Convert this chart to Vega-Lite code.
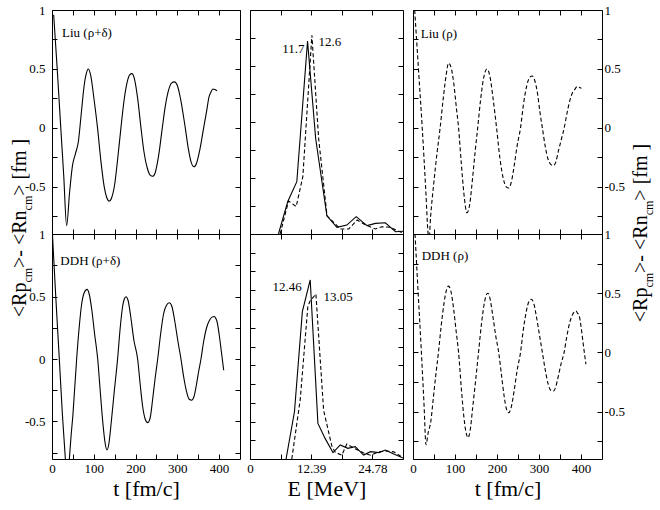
{
  "$schema": "https://vega.github.io/schema/vega-lite/v6.json",
  "background": "white",
  "padding": {"left": 9, "top": 3, "right": 5, "bottom": 5},
  "config": {
    "font": "Liberation Serif",
    "view": {"stroke": "black", "strokeWidth": 1},
    "axis": {
      "domain": false, "grid": false, "tickSize": -5, "tickColor": "black", "tickWidth": 1,
      "labelFont": "Liberation Serif", "labelFontSize": 13, "labelColor": "black", "labelFlush": false,
      "titleFont": "Liberation Serif", "titleFontSize": 22, "titleFontWeight": "normal", "titleColor": "black", "titlePadding": 3
    },
    "axisLeft": {"labelPadding": 12},
    "axisRight": {"labelPadding": 7},
    "axisBottom": {"labelPadding": 8},
    "line": {"color": "black", "strokeWidth": 1.1},
    "text": {"color": "black", "font": "Liberation Serif"}
  },
  "datasets": {
    "liu_rd": [
      {"t":4,"v":0.96},{"t":12.5,"v":0.5},{"t":21,"v":0},{"t":28,"v":-0.4},{"t":35,"v":-0.83},{"t":42,"v":-0.55},{"t":49,"v":-0.32},{"t":56,"v":-0.22},{"t":63,"v":-0.12},{"t":70,"v":0.12},{"t":77,"v":0.36},{"t":82,"v":0.46},{"t":87,"v":0.5},{"t":93,"v":0.44},{"t":100,"v":0.26},{"t":109,"v":0},{"t":117,"v":-0.28},{"t":125,"v":-0.5},{"t":131,"v":-0.59},{"t":137,"v":-0.62},{"t":143,"v":-0.59},{"t":150,"v":-0.48},{"t":157,"v":-0.27},{"t":165,"v":0},{"t":172,"v":0.22},{"t":180,"v":0.39},{"t":186,"v":0.45},{"t":191,"v":0.46},{"t":197,"v":0.42},{"t":205,"v":0.25},{"t":213,"v":0},{"t":220,"v":-0.2},{"t":228,"v":-0.34},{"t":235,"v":-0.4},{"t":241,"v":-0.41},{"t":247,"v":-0.38},{"t":255,"v":-0.24},{"t":264,"v":0},{"t":271,"v":0.18},{"t":279,"v":0.32},{"t":286,"v":0.38},{"t":293,"v":0.39},{"t":300,"v":0.36},{"t":308,"v":0.24},{"t":319,"v":0},{"t":326,"v":-0.17},{"t":333,"v":-0.29},{"t":340,"v":-0.33},{"t":346,"v":-0.3},{"t":353,"v":-0.2},{"t":363,"v":0},{"t":370,"v":0.14},{"t":376,"v":0.265},{"t":380,"v":0.3},{"t":385,"v":0.33},{"t":390,"v":0.325},{"t":395,"v":0.315}
    ],
    "liu_r": [
      {"t":4,"v":1.0},{"t":13,"v":0.5},{"t":22,"v":0},{"t":30,"v":-0.5},{"t":36,"v":-0.9},{"t":38,"v":-0.95},{"t":42,"v":-0.75},{"t":50,"v":-0.45},{"t":57,"v":-0.22},{"t":64.6,"v":0},{"t":72,"v":0.25},{"t":79,"v":0.45},{"t":84.6,"v":0.55},{"t":90,"v":0.52},{"t":97,"v":0.38},{"t":103,"v":0.18},{"t":108.5,"v":0},{"t":115,"v":-0.3},{"t":121,"v":-0.55},{"t":128.5,"v":-0.72},{"t":135,"v":-0.65},{"t":142,"v":-0.42},{"t":148,"v":-0.2},{"t":154,"v":0},{"t":161,"v":0.24},{"t":168,"v":0.42},{"t":176,"v":0.5},{"t":183,"v":0.44},{"t":191,"v":0.24},{"t":199,"v":0},{"t":207,"v":-0.26},{"t":215,"v":-0.43},{"t":222,"v":-0.5},{"t":228,"v":-0.51},{"t":234,"v":-0.46},{"t":241,"v":-0.32},{"t":248,"v":-0.15},{"t":256,"v":0},{"t":263,"v":0.2},{"t":271,"v":0.36},{"t":278,"v":0.43},{"t":284,"v":0.44},{"t":290,"v":0.4},{"t":297,"v":0.28},{"t":302,"v":0.14},{"t":308,"v":0},{"t":315,"v":-0.16},{"t":322,"v":-0.27},{"t":328,"v":-0.31},{"t":334,"v":-0.32},{"t":340,"v":-0.29},{"t":346,"v":-0.2},{"t":353,"v":-0.1},{"t":360,"v":0},{"t":367,"v":0.13},{"t":374,"v":0.24},{"t":380,"v":0.3},{"t":384,"v":0.32},{"t":391,"v":0.35},{"t":396,"v":0.345},{"t":401,"v":0.335}
    ],
    "ddh_rd": [
      {"t":1,"v":1.0},{"t":9,"v":0.5},{"t":17.5,"v":0},{"t":25,"v":-0.45},{"t":32,"v":-0.8},{"t":36,"v":-0.98},{"t":41.5,"v":-0.8},{"t":46,"v":-0.6},{"t":50,"v":-0.45},{"t":54,"v":-0.25},{"t":59,"v":0},{"t":65,"v":0.25},{"t":71,"v":0.44},{"t":77,"v":0.53},{"t":83.8,"v":0.557},{"t":89,"v":0.52},{"t":95,"v":0.4},{"t":102,"v":0.2},{"t":109.4,"v":0},{"t":116,"v":-0.28},{"t":122,"v":-0.52},{"t":127,"v":-0.67},{"t":131.6,"v":-0.728},{"t":136,"v":-0.68},{"t":142,"v":-0.5},{"t":149,"v":-0.26},{"t":157,"v":0},{"t":163,"v":0.24},{"t":169,"v":0.42},{"t":173,"v":0.48},{"t":177,"v":0.498},{"t":182,"v":0.47},{"t":188,"v":0.35},{"t":196,"v":0.15},{"t":205,"v":0},{"t":211,"v":-0.2},{"t":217,"v":-0.38},{"t":223,"v":-0.48},{"t":229,"v":-0.51},{"t":235,"v":-0.47},{"t":241,"v":-0.32},{"t":247,"v":-0.15},{"t":253,"v":0},{"t":260,"v":0.2},{"t":267,"v":0.36},{"t":274,"v":0.43},{"t":280.8,"v":0.45},{"t":287,"v":0.42},{"t":294,"v":0.3},{"t":301,"v":0.15},{"t":308.7,"v":0},{"t":315,"v":-0.14},{"t":322,"v":-0.26},{"t":328,"v":-0.32},{"t":334,"v":-0.33},{"t":340,"v":-0.3},{"t":346,"v":-0.2},{"t":351,"v":-0.1},{"t":356.6,"v":0},{"t":363,"v":0.14},{"t":370,"v":0.25},{"t":377,"v":0.31},{"t":383,"v":0.335},{"t":388.5,"v":0.34},{"t":392,"v":0.325},{"t":395,"v":0.3},{"t":400,"v":0.2},{"t":405,"v":0.07},{"t":411,"v":-0.09}
    ],
    "ddh_r": [
      {"t":4.8,"v":1.0},{"t":12,"v":0.52},{"t":20,"v":0},{"t":26,"v":-0.42},{"t":31,"v":-0.78},{"t":36,"v":-0.68},{"t":42.3,"v":-0.586},{"t":48,"v":-0.4},{"t":54,"v":-0.2},{"t":60.6,"v":0},{"t":67,"v":0.22},{"t":74,"v":0.42},{"t":80,"v":0.53},{"t":84.6,"v":0.56},{"t":90,"v":0.52},{"t":97,"v":0.36},{"t":103,"v":0.17},{"t":108.5,"v":0},{"t":115,"v":-0.3},{"t":121,"v":-0.54},{"t":126,"v":-0.67},{"t":131,"v":-0.72},{"t":136,"v":-0.66},{"t":142,"v":-0.47},{"t":149,"v":-0.24},{"t":156,"v":0},{"t":163,"v":0.24},{"t":170,"v":0.42},{"t":174,"v":0.48},{"t":177.9,"v":0.5},{"t":183,"v":0.46},{"t":190,"v":0.31},{"t":197,"v":0.14},{"t":204,"v":0},{"t":211,"v":-0.2},{"t":217,"v":-0.37},{"t":222,"v":-0.47},{"t":228,"v":-0.51},{"t":234,"v":-0.46},{"t":241,"v":-0.32},{"t":248,"v":-0.15},{"t":256,"v":0},{"t":263,"v":0.2},{"t":270,"v":0.35},{"t":276,"v":0.43},{"t":281.6,"v":0.449},{"t":287,"v":0.42},{"t":294,"v":0.3},{"t":301,"v":0.15},{"t":308,"v":0},{"t":315,"v":-0.15},{"t":322,"v":-0.27},{"t":328,"v":-0.32},{"t":334.2,"v":-0.327},{"t":340,"v":-0.29},{"t":346,"v":-0.2},{"t":353,"v":-0.09},{"t":359.8,"v":0},{"t":366,"v":0.13},{"t":373,"v":0.25},{"t":380,"v":0.32},{"t":387.7,"v":0.35},{"t":392,"v":0.33},{"t":395.7,"v":0.31},{"t":400,"v":0.22},{"t":405,"v":0.08},{"t":411.7,"v":-0.1}
    ],
    "spec_top_solid": [
      {"e":5.76,"s":0},{"e":7.65,"s":1.16},{"e":9.48,"s":1.87},{"e":11.65,"s":6.89},{"e":13.3,"s":3.4},{"e":15.57,"s":0.65},{"e":17.6,"s":0.24},{"e":19.6,"s":0.32},{"e":21.5,"s":0.62},{"e":23.7,"s":0.3},{"e":25.4,"s":0.38},{"e":27.4,"s":0.4},{"e":29.45,"s":0.08},{"e":31.1,"s":0.1}
    ],
    "spec_top_dash": [
      {"e":6.1,"s":0},{"e":7.8,"s":1.18},{"e":9.35,"s":0.98},{"e":10.7,"s":2.05},{"e":12.53,"s":7.1},{"e":13.9,"s":3.4},{"e":15.6,"s":0.65},{"e":17.6,"s":0.3},{"e":18.3,"s":0.18},{"e":20.0,"s":0.18},{"e":21.7,"s":0.5},{"e":23.4,"s":0.32},{"e":25.4,"s":0.18},{"e":26.7,"s":0.26},{"e":28.4,"s":0.24},{"e":31.1,"s":0.02}
    ],
    "spec_bot_solid": [
      {"e":7.3,"s":0},{"e":9.0,"s":2.52},{"e":10.6,"s":7.86},{"e":12.19,"s":9.55},{"e":13.75,"s":1.9},{"e":15.2,"s":1.1},{"e":16.8,"s":0.34},{"e":18.28,"s":0.75},{"e":19.8,"s":0.57},{"e":21.3,"s":0.66},{"e":23.0,"s":0.21},{"e":24.4,"s":0.39},{"e":26.1,"s":0.34},{"e":27.4,"s":0.48},{"e":29.1,"s":0.27},{"e":31.0,"s":0.05}
    ],
    "spec_bot_dash": [
      {"e":8.46,"s":0},{"e":10.16,"s":3.15},{"e":11.7,"s":8.1},{"e":12.1,"s":8.4},{"e":13.34,"s":8.8},{"e":14.9,"s":2.6},{"e":16.6,"s":0.66},{"e":17.3,"s":0.35},{"e":18.6,"s":0.21},{"e":19.6,"s":0.8},{"e":21.3,"s":0.55},{"e":23.0,"s":0.32},{"e":24.4,"s":0.2},{"e":26.1,"s":0.38},{"e":27.4,"s":0.43},{"e":29.1,"s":0.38},{"e":31.1,"s":0.05}
    ],
    "ytitle_left_big": [
      {"t":-62.2,"v":-1.606,"txt":"<Rp"},{"t":-62.2,"v":-1.188,"txt":">- <Rn"},{"t":-62.2,"v":-0.575,"txt":"> [fm ]"}
    ],
    "ytitle_left_sub": [
      {"t":-62.2,"v":-1.312,"txt":"cm"},{"t":-62.2,"v":-0.7,"txt":"cm"}
    ],
    "ytitle_right_big": [
      {"t":557.7,"v":-1.648,"txt":"<Rp"},{"t":557.7,"v":-1.23,"txt":">- <Rn"},{"t":557.7,"v":-0.617,"txt":"> [fm ]"}
    ],
    "ytitle_right_sub": [
      {"t":557.7,"v":-1.354,"txt":"cm"},{"t":557.7,"v":-0.742,"txt":"cm"}
    ]
  },
  "columns": 3,
  "spacing": {"row": 0, "column": 10},
  "bounds": "flush",
  "concat": [
    {
      "width": 188, "height": 224,
      "layer": [
        {
          "data": {"name": "liu_rd"},
          "mark": {"type": "line", "clip": true, "interpolate": "monotone"},
          "encoding": {
            "x": {"field": "t", "type": "quantitative", "scale": {"domain": [0, 450], "nice": false},
                  "axis": {"orient": "bottom", "values": [0,50,100,150,200,250,300,350,400], "labels": false, "title": null}},
            "y": {"field": "v", "type": "quantitative", "scale": {"domain": [-0.9, 1], "nice": false},
                  "axis": {"orient": "left", "values": [-0.75,-0.5,-0.25,0,0.25,0.5,0.75,1], "labelExpr": "datum.value * 4 % 2 == 0 ? '' + datum.value : ''", "title": null}}
          }
        },
        {
          "data": {"name": "liu_rd"},
          "mark": {"type": "line", "opacity": 0},
          "encoding": {
            "x": {"field": "t", "type": "quantitative", "scale": {"domain": [0, 450], "nice": false},
                  "axis": {"orient": "top", "values": [0,50,100,150,200,250,300,350,400], "labels": false, "title": null}},
            "y": {"field": "v", "type": "quantitative", "scale": {"domain": [-0.9, 1], "nice": false},
                  "axis": {"orient": "right", "values": [-0.75,-0.5,-0.25,0,0.25,0.5,0.75,1], "labels": false, "title": null}}
          }
        },
        {
          "data": {"values": [{"t": 24, "v": 0.805, "txt": "Liu (ρ+δ)"}]},
          "mark": {"type": "text", "align": "left", "baseline": "middle", "fontSize": 13},
          "encoding": {
            "x": {"field": "t", "type": "quantitative", "scale": {"domain": [0, 450], "nice": false}, "axis": null},
            "y": {"field": "v", "type": "quantitative", "scale": {"domain": [-0.9, 1], "nice": false}, "axis": null},
            "text": {"field": "txt"}
          }
        },
        {
          "data": {"name": "ytitle_left_big"},
          "mark": {"type": "text", "align": "left", "baseline": "alphabetic", "angle": 270, "fontSize": 20},
          "encoding": {
            "x": {"field": "t", "type": "quantitative", "scale": {"domain": [0, 450], "nice": false}, "axis": null},
            "y": {"field": "v", "type": "quantitative", "scale": {"domain": [-0.9, 1], "nice": false}, "axis": null},
            "text": {"field": "txt"}
          }
        },
        {
          "data": {"name": "ytitle_left_sub"},
          "mark": {"type": "text", "align": "left", "baseline": "alphabetic", "angle": 270, "fontSize": 12, "dy": 6},
          "encoding": {
            "x": {"field": "t", "type": "quantitative", "scale": {"domain": [0, 450], "nice": false}, "axis": null},
            "y": {"field": "v", "type": "quantitative", "scale": {"domain": [-0.9, 1], "nice": false}, "axis": null},
            "text": {"field": "txt"}
          }
        }
      ],
      "resolve": {"axis": {"x": "independent", "y": "independent"}}
    },
    {
      "width": 153, "height": 224,
      "layer": [
        {
          "data": {"name": "spec_top_solid"},
          "mark": {"type": "line", "clip": true},
          "encoding": {
            "x": {"field": "e", "type": "quantitative", "scale": {"domain": [0, 30.975], "nice": false},
                  "axis": {"orient": "bottom", "values": [0,6.195,12.39,18.585,24.78], "labels": false, "title": null}},
            "y": {"field": "s", "type": "quantitative", "scale": {"domain": [0, 8], "nice": false},
                  "axis": {"orient": "left", "values": [0,1,2,3,4,5,6,7,8], "labels": false, "title": null}}
          }
        },
        {
          "data": {"name": "spec_top_dash"},
          "mark": {"type": "line", "clip": true, "strokeDash": [4, 2.5]},
          "encoding": {
            "x": {"field": "e", "type": "quantitative", "scale": {"domain": [0, 30.975], "nice": false},
                  "axis": {"orient": "top", "values": [0,6.195,12.39,18.585,24.78], "labels": false, "title": null}},
            "y": {"field": "s", "type": "quantitative", "scale": {"domain": [0, 8], "nice": false},
                  "axis": {"orient": "right", "values": [0,1,2,3,4,5,6,7,8], "labels": false, "title": null}}
          }
        },
        {
          "data": {"values": [{"e": 11.03, "s": 6.61, "txt": "11.7"}]},
          "mark": {"type": "text", "align": "right", "baseline": "middle", "fontSize": 13},
          "encoding": {
            "x": {"field": "e", "type": "quantitative", "scale": {"domain": [0, 30.975], "nice": false}, "axis": null},
            "y": {"field": "s", "type": "quantitative", "scale": {"domain": [0, 8], "nice": false}, "axis": null},
            "text": {"field": "txt"}
          }
        },
        {
          "data": {"values": [{"e": 13.87, "s": 6.87, "txt": "12.6"}]},
          "mark": {"type": "text", "align": "left", "baseline": "middle", "fontSize": 13},
          "encoding": {
            "x": {"field": "e", "type": "quantitative", "scale": {"domain": [0, 30.975], "nice": false}, "axis": null},
            "y": {"field": "s", "type": "quantitative", "scale": {"domain": [0, 8], "nice": false}, "axis": null},
            "text": {"field": "txt"}
          }
        }
      ],
      "resolve": {"axis": {"x": "independent", "y": "independent"}}
    },
    {
      "width": 189, "height": 224,
      "layer": [
        {
          "data": {"name": "liu_r"},
          "mark": {"type": "line", "clip": true, "interpolate": "monotone", "strokeDash": [4, 2.5]},
          "encoding": {
            "x": {"field": "t", "type": "quantitative", "scale": {"domain": [0, 450], "nice": false},
                  "axis": {"orient": "bottom", "values": [0,50,100,150,200,250,300,350,400], "labels": false, "title": null}},
            "y": {"field": "v", "type": "quantitative", "scale": {"domain": [-0.9, 1], "nice": false},
                  "axis": {"orient": "right", "values": [-0.75,-0.5,-0.25,0,0.25,0.5,0.75,1], "labelExpr": "datum.value * 4 % 2 == 0 ? '' + datum.value : ''", "title": null}}
          }
        },
        {
          "data": {"name": "liu_r"},
          "mark": {"type": "line", "opacity": 0},
          "encoding": {
            "x": {"field": "t", "type": "quantitative", "scale": {"domain": [0, 450], "nice": false},
                  "axis": {"orient": "top", "values": [0,50,100,150,200,250,300,350,400], "labels": false, "title": null}},
            "y": {"field": "v", "type": "quantitative", "scale": {"domain": [-0.9, 1], "nice": false},
                  "axis": {"orient": "left", "values": [-0.75,-0.5,-0.25,0,0.25,0.5,0.75,1], "labels": false, "title": null}}
          }
        },
        {
          "data": {"values": [{"t": 18.4, "v": 0.8, "txt": "Liu (ρ)"}]},
          "mark": {"type": "text", "align": "left", "baseline": "middle", "fontSize": 13},
          "encoding": {
            "x": {"field": "t", "type": "quantitative", "scale": {"domain": [0, 450], "nice": false}, "axis": null},
            "y": {"field": "v", "type": "quantitative", "scale": {"domain": [-0.9, 1], "nice": false}, "axis": null},
            "text": {"field": "txt"}
          }
        },
        {
          "data": {"name": "ytitle_right_big"},
          "mark": {"type": "text", "align": "left", "baseline": "alphabetic", "angle": 270, "fontSize": 20},
          "encoding": {
            "x": {"field": "t", "type": "quantitative", "scale": {"domain": [0, 450], "nice": false}, "axis": null},
            "y": {"field": "v", "type": "quantitative", "scale": {"domain": [-0.9, 1], "nice": false}, "axis": null},
            "text": {"field": "txt"}
          }
        },
        {
          "data": {"name": "ytitle_right_sub"},
          "mark": {"type": "text", "align": "left", "baseline": "alphabetic", "angle": 270, "fontSize": 12, "dy": 6},
          "encoding": {
            "x": {"field": "t", "type": "quantitative", "scale": {"domain": [0, 450], "nice": false}, "axis": null},
            "y": {"field": "v", "type": "quantitative", "scale": {"domain": [-0.9, 1], "nice": false}, "axis": null},
            "text": {"field": "txt"}
          }
        }
      ],
      "resolve": {"axis": {"x": "independent", "y": "independent"}}
    },
    {
      "width": 188, "height": 225,
      "layer": [
        {
          "data": {"name": "ddh_rd"},
          "mark": {"type": "line", "clip": true, "interpolate": "monotone"},
          "encoding": {
            "x": {"field": "t", "type": "quantitative", "scale": {"domain": [0, 450], "nice": false},
                  "axis": {"orient": "bottom", "values": [0,50,100,150,200,250,300,350,400], "labelExpr": "datum.value % 100 == 0 ? '' + datum.value : ''", "title": "t [fm/c]"}},
            "y": {"field": "v", "type": "quantitative", "scale": {"domain": [-0.8, 1], "nice": false},
                  "axis": {"orient": "left", "values": [-0.75,-0.5,-0.25,0,0.25,0.5,0.75,1], "labelExpr": "datum.value * 4 % 2 == 0 ? '' + datum.value : ''", "title": null}}
          }
        },
        {
          "data": {"name": "ddh_rd"},
          "mark": {"type": "line", "opacity": 0},
          "encoding": {
            "x": {"field": "t", "type": "quantitative", "scale": {"domain": [0, 450], "nice": false},
                  "axis": {"orient": "top", "values": [0,50,100,150,200,250,300,350,400], "labels": false, "title": null}},
            "y": {"field": "v", "type": "quantitative", "scale": {"domain": [-0.8, 1], "nice": false},
                  "axis": {"orient": "right", "values": [-0.75,-0.5,-0.25,0,0.25,0.5,0.75,1], "labels": false, "title": null}}
          }
        },
        {
          "data": {"values": [{"t": 20, "v": 0.786, "txt": "DDH (ρ+δ)"}]},
          "mark": {"type": "text", "align": "left", "baseline": "middle", "fontSize": 13},
          "encoding": {
            "x": {"field": "t", "type": "quantitative", "scale": {"domain": [0, 450], "nice": false}, "axis": null},
            "y": {"field": "v", "type": "quantitative", "scale": {"domain": [-0.8, 1], "nice": false}, "axis": null},
            "text": {"field": "txt"}
          }
        }
      ],
      "resolve": {"axis": {"x": "independent", "y": "independent"}}
    },
    {
      "width": 153, "height": 225,
      "layer": [
        {
          "data": {"name": "spec_bot_solid"},
          "mark": {"type": "line", "clip": true},
          "encoding": {
            "x": {"field": "e", "type": "quantitative", "scale": {"domain": [0, 30.975], "nice": false},
                  "axis": {"orient": "bottom", "values": [0,6.195,12.39,18.585,24.78], "labelExpr": "datum.value == 0 || datum.value == 12.39 || datum.value == 24.78 ? '' + datum.value : ''", "title": "E [MeV]"}},
            "y": {"field": "s", "type": "quantitative", "scale": {"domain": [0, 12], "nice": false},
                  "axis": {"orient": "left", "values": [0,1,2,3,4,5,6,7,8,9,10,11,12], "labels": false, "title": null}}
          }
        },
        {
          "data": {"name": "spec_bot_dash"},
          "mark": {"type": "line", "clip": true, "strokeDash": [4, 2.5]},
          "encoding": {
            "x": {"field": "e", "type": "quantitative", "scale": {"domain": [0, 30.975], "nice": false},
                  "axis": {"orient": "top", "values": [0,6.195,12.39,18.585,24.78], "labels": false, "title": null}},
            "y": {"field": "s", "type": "quantitative", "scale": {"domain": [0, 12], "nice": false},
                  "axis": {"orient": "right", "values": [0,1,2,3,4,5,6,7,8,9,10,11,12], "labels": false, "title": null}}
          }
        },
        {
          "data": {"values": [{"e": 10.5, "s": 9.19, "txt": "12.46"}]},
          "mark": {"type": "text", "align": "right", "baseline": "middle", "fontSize": 13},
          "encoding": {
            "x": {"field": "e", "type": "quantitative", "scale": {"domain": [0, 30.975], "nice": false}, "axis": null},
            "y": {"field": "s", "type": "quantitative", "scale": {"domain": [0, 12], "nice": false}, "axis": null},
            "text": {"field": "txt"}
          }
        },
        {
          "data": {"values": [{"e": 14.89, "s": 8.66, "txt": "13.05"}]},
          "mark": {"type": "text", "align": "left", "baseline": "middle", "fontSize": 13},
          "encoding": {
            "x": {"field": "e", "type": "quantitative", "scale": {"domain": [0, 30.975], "nice": false}, "axis": null},
            "y": {"field": "s", "type": "quantitative", "scale": {"domain": [0, 12], "nice": false}, "axis": null},
            "text": {"field": "txt"}
          }
        }
      ],
      "resolve": {"axis": {"x": "independent", "y": "independent"}}
    },
    {
      "width": 189, "height": 225,
      "layer": [
        {
          "data": {"name": "ddh_r"},
          "mark": {"type": "line", "clip": true, "interpolate": "monotone", "strokeDash": [4, 2.5]},
          "encoding": {
            "x": {"field": "t", "type": "quantitative", "scale": {"domain": [0, 450], "nice": false},
                  "axis": {"orient": "bottom", "values": [0,50,100,150,200,250,300,350,400], "labelExpr": "datum.value % 100 == 0 ? '' + datum.value : ''", "title": "t [fm/c]"}},
            "y": {"field": "v", "type": "quantitative", "scale": {"domain": [-0.9, 1], "nice": false},
                  "axis": {"orient": "right", "values": [-0.75,-0.5,-0.25,0,0.25,0.5,0.75,1], "labelExpr": "datum.value * 4 % 2 == 0 ? '' + datum.value : ''", "title": null}}
          }
        },
        {
          "data": {"name": "ddh_r"},
          "mark": {"type": "line", "opacity": 0},
          "encoding": {
            "x": {"field": "t", "type": "quantitative", "scale": {"domain": [0, 450], "nice": false},
                  "axis": {"orient": "top", "values": [0,50,100,150,200,250,300,350,400], "labels": false, "title": null}},
            "y": {"field": "v", "type": "quantitative", "scale": {"domain": [-0.9, 1], "nice": false},
                  "axis": {"orient": "left", "values": [-0.75,-0.5,-0.25,0,0.25,0.5,0.75,1], "labels": false, "title": null}}
          }
        },
        {
          "data": {"values": [{"t": 20.7, "v": 0.818, "txt": "DDH (ρ)"}]},
          "mark": {"type": "text", "align": "left", "baseline": "middle", "fontSize": 13},
          "encoding": {
            "x": {"field": "t", "type": "quantitative", "scale": {"domain": [0, 450], "nice": false}, "axis": null},
            "y": {"field": "v", "type": "quantitative", "scale": {"domain": [-0.9, 1], "nice": false}, "axis": null},
            "text": {"field": "txt"}
          }
        }
      ],
      "resolve": {"axis": {"x": "independent", "y": "independent"}}
    }
  ]
}
